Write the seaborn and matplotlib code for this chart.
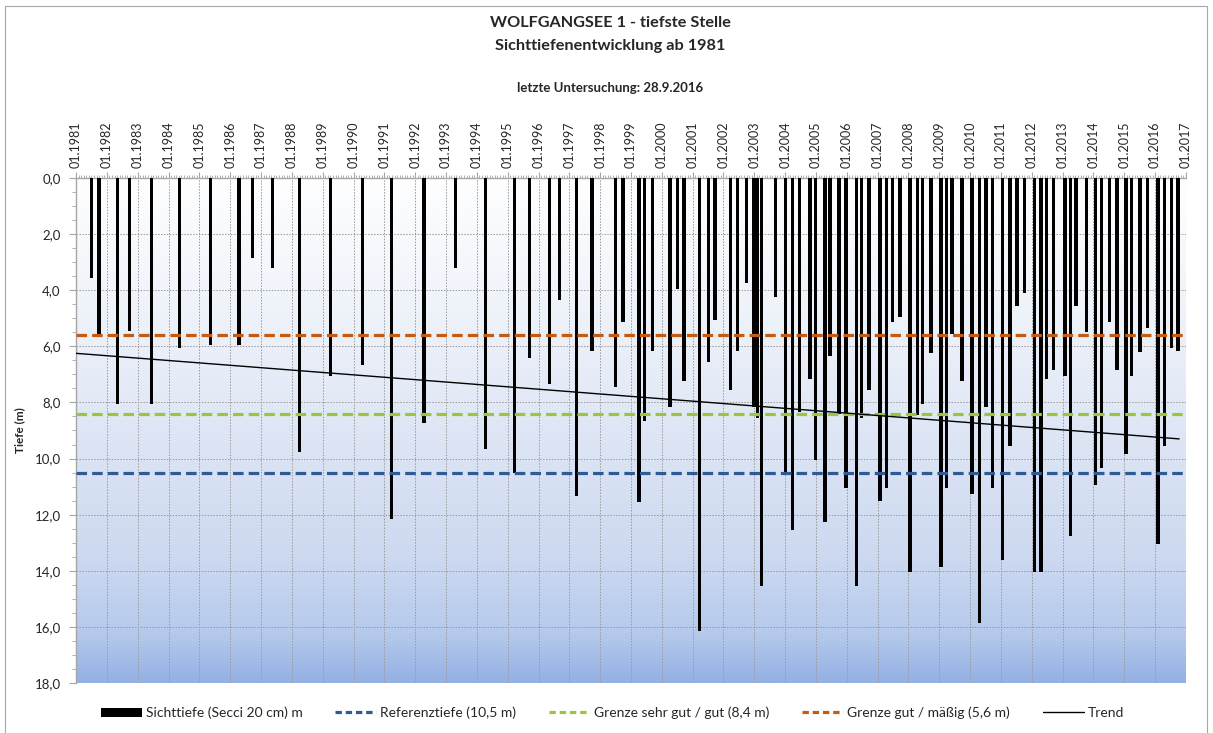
import numpy as np
import matplotlib.pyplot as plt
import seaborn as sns
from matplotlib.colors import LinearSegmentedColormap
from matplotlib.patches import Patch, Rectangle
from matplotlib.lines import Line2D
from matplotlib.ticker import MultipleLocator

# ============================
# Daten
# ============================
mess_datum = [
    1981.51, 1981.75, 1982.34, 1982.73, 1983.44, 1984.35, 1985.37, 1986.29, 1986.72, 1987.38,
    1988.25, 1989.25, 1990.30, 1991.23, 1992.28, 1993.31, 1994.28, 1995.22, 1995.71, 1996.36,
    1996.69, 1997.23, 1997.74, 1998.49, 1998.74, 1999.26, 1999.44, 1999.69, 2000.26, 2000.50,
    2000.72, 2001.23, 2001.51, 2001.72, 2002.23, 2002.45, 2002.74, 2002.99, 2003.10, 2003.23,
    2003.69, 2004.02, 2004.23, 2004.47, 2004.81, 2004.99, 2005.29, 2005.46, 2005.75, 2005.97,
    2006.31, 2006.48, 2006.72, 2007.08, 2007.29, 2007.48, 2007.73, 2008.05, 2008.29, 2008.46,
    2008.73, 2009.05, 2009.24, 2009.41, 2009.73, 2010.06, 2010.30, 2010.51, 2010.73, 2011.05,
    2011.29, 2011.52, 2011.76, 2012.08, 2012.30, 2012.48, 2012.71, 2013.08, 2013.25, 2013.44,
    2013.78, 2014.06, 2014.27, 2014.52, 2014.76, 2015.06, 2015.24, 2015.51, 2015.76, 2016.09,
    2016.30, 2016.54, 2016.74,
]
sichttiefe = [
    3.55, 5.55, 8.05, 5.45, 8.05, 6.05, 5.95, 5.95, 2.85, 3.2,
    9.75, 7.05, 6.65, 12.15, 8.75, 3.2, 9.65, 10.5, 6.4, 7.35,
    4.35, 11.35, 6.15, 7.45, 5.15, 11.55, 8.65, 6.15, 8.15, 3.95,
    7.25, 16.15, 6.55, 5.05, 7.55, 6.15, 3.75, 8.15, 8.55, 14.55,
    4.25, 10.5, 12.55, 8.35, 7.15, 10.05, 12.25, 6.35, 8.4, 11.05,
    14.55, 8.55, 7.55, 11.5, 11.05, 5.15, 4.95, 14.05, 8.45, 8.05,
    6.25, 13.85, 11.05, 5.55, 7.25, 11.25, 15.85, 8.15, 11.05, 13.6,
    9.55, 4.55, 4.1, 14.05, 14.05, 7.15, 6.85, 7.05, 12.75, 4.55,
    5.5, 10.95, 10.35, 5.15, 6.85, 9.85, 7.05, 6.2, 5.35, 13.05,
    9.55, 6.05, 6.15,
]
trend_datum = [1981.0, 2016.78]
trend_tiefe = [6.25, 9.3]

referenztiefe = 10.5
grenze_sehr_gut = 8.4
grenze_maessig = 5.6

jahre = list(range(1981, 2018))
jahr_labels = ['01.%d' % j for j in jahre]
tiefe_ticks = [0, 2, 4, 6, 8, 10, 12, 14, 16, 18]
tiefe_labels = ['0,0', '2,0', '4,0', '6,0', '8,0', '10,0', '12,0', '14,0', '16,0', '18,0']

# ============================
# Plot
# ============================
sns.set_style('white')
plt.rcParams['font.family'] = ['Lato', 'DejaVu Sans']

col_ref = '#2e5a95'
col_gut = '#9cc443'
col_maessig = '#c55a11'
txt = '#262626'

fig = plt.figure(figsize=(12.13, 7.33), dpi=100)
ax = fig.add_axes([0.0627, 0.0682, 0.915, 0.689])

# Hintergrundverlauf
wasser = LinearSegmentedColormap.from_list(
    'wasser', [(0, '#ffffff'), (0.35, '#e9eef8'), (0.75, '#cdd9f0'), (0.9, '#b6caec'), (1, '#93b1e4')])
grad = np.linspace(0, 1, 256).reshape(-1, 1)
ax.imshow(grad, cmap=wasser, extent=[0, 1, 0, 1], transform=ax.transAxes,
          aspect='auto', origin='upper', zorder=0)

ax.bar(mess_datum, sichttiefe, width=0.11, color='black', edgecolor='black', linewidth=0, zorder=3)

dash = (3.3, 1.6)
ax.axhline(grenze_maessig, color=col_maessig, lw=2.3, dashes=dash, zorder=4)
ax.axhline(grenze_sehr_gut, color=col_gut, lw=2.3, dashes=dash, zorder=4)
ax.axhline(referenztiefe, color=col_ref, lw=2.3, dashes=dash, zorder=4)
sns.lineplot(x=trend_datum, y=trend_tiefe, color='black', lw=1.0, ax=ax, zorder=5)

ax.set_xlim(1981, 2017)
ax.set_ylim(18, 0)

ax.xaxis.tick_top()
ax.set_xticks(jahre)
ax.set_xticklabels(jahr_labels, rotation=90, fontsize=9, color=txt)
ax.xaxis.set_minor_locator(MultipleLocator(1 / 12))
ax.set_yticks(tiefe_ticks)
ax.set_yticklabels(tiefe_labels, fontsize=9.5, color=txt)
ax.yaxis.set_minor_locator(MultipleLocator(0.5))
ax.tick_params(axis='x', which='major', top=True, bottom=False, length=4, color='#a6a6a6', pad=3)
ax.tick_params(axis='x', which='minor', top=True, bottom=False, length=2.5, color='#a6a6a6')
ax.tick_params(axis='y', which='major', left=True, length=5, color='#a6a6a6', pad=6)
ax.tick_params(axis='y', which='minor', left=True, length=3, color='#a6a6a6')

ax.grid(True, which='major', color='#9a9a9a', linestyle=(0, (1.5, 1.5)), lw=0.7)
ax.set_axisbelow(True)
for s in ['right', 'bottom']:
    ax.spines[s].set_visible(False)
for s in ['left', 'top']:
    ax.spines[s].set_color('#a6a6a6')
    ax.spines[s].set_linewidth(1)

ax.set_xlabel('')
ax.set_ylabel('')
fig.text(20 / 1213, 1 - 430 / 733, 'Tiefe (m)', rotation=90, ha='center', va='center',
         fontsize=8.5, fontweight='bold', color=txt)

# Titel
fig.text(0.503, 1 - 23 / 733, 'WOLFGANGSEE 1 - tiefste Stelle', ha='center', va='center',
         fontsize=11.7, fontweight='bold', color=txt)
fig.text(0.503, 1 - 46 / 733, 'Sichttiefenentwicklung ab 1981', ha='center', va='center',
         fontsize=11.7, fontweight='bold', color=txt)
fig.text(0.503, 1 - 88 / 733, 'letzte Untersuchung: 28.9.2016', ha='center', va='center',
         fontsize=9.5, fontweight='bold', color=txt)

# Legende
handles = [
    Patch(facecolor='black', edgecolor='black', linewidth=0),
    Line2D([], [], color=col_ref, lw=2.3, dashes=(2.0, 1.2)),
    Line2D([], [], color=col_gut, lw=2.3, dashes=(2.0, 1.2)),
    Line2D([], [], color=col_maessig, lw=2.3, dashes=(2.0, 1.2)),
    Line2D([], [], color='black', lw=1.0),
]
labels = ['Sichttiefe (Secci 20 cm) m', 'Referenztiefe (10,5 m)', 'Grenze sehr gut / gut (8,4 m)',
          'Grenze gut / mäßig (5,6 m)', 'Trend']
leg = fig.legend(handles, labels, loc='center', bbox_to_anchor=(0.505, 1 - 713 / 733), ncol=5,
                 frameon=False, fontsize=10, handlelength=2.95, handleheight=0.7,
                 handletextpad=0.3, columnspacing=2.35)
for t in leg.get_texts():
    t.set_color(txt)

# Rahmen
fig.patches.append(Rectangle((5 / 1213, -0.01), 1202 / 1213, 1.01 - 6 / 733, transform=fig.transFigure,
                             fill=False, edgecolor='#a6a6a6', lw=0.8))

fig.savefig('out.png', dpi=100)
